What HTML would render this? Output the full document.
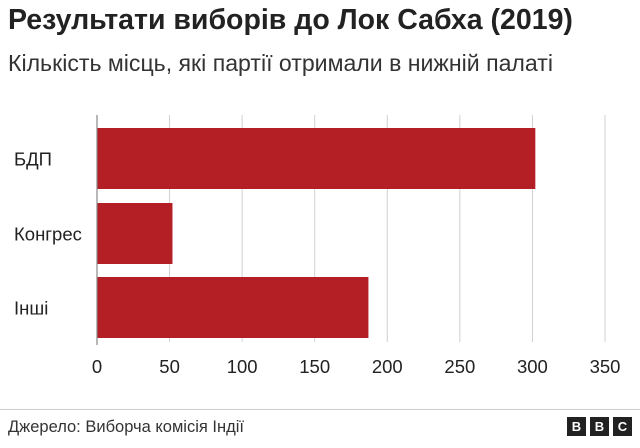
<!DOCTYPE html>
<html><head><meta charset="utf-8"><style>
body{margin:0;width:640px;height:448px;background:#fff;font-family:"Liberation Sans","DejaVu Sans",sans-serif;overflow:hidden;position:relative;color:#222}
.t{position:absolute;left:8px;top:4px;font-size:28.5px;font-weight:bold;color:#222;white-space:nowrap}
.s{position:absolute;left:8px;top:50px;font-size:23.1px;color:#333;white-space:nowrap}
.f{position:absolute;left:8px;top:418px;font-size:16.5px;color:#333;white-space:nowrap}
.bbc{position:absolute;top:417px;width:19px;height:19px;background:#222;color:#fff;font-weight:bold;font-size:13px;text-align:center;line-height:19px}
</style></head><body>
<div class="t">Результати виборів до Лок Сабха (2019)</div>
<div class="s">Кількість місць, які партії отримали в нижній палаті</div>
<svg id="c" width="640" height="448" style="position:absolute;left:0;top:0"></svg>
<div style="position:absolute;left:0;top:409px;width:640px;height:1px;background:#ccc"></div>
<div class="f">Джерело: Виборча комісія Індії</div>
<div class="bbc" style="left:567px">B</div>
<div class="bbc" style="left:590px">B</div>
<div class="bbc" style="left:613px">C</div>
<script>
const categories=["БДП","Конгрес","Інші"];
const values=[302,52,187];
const ticks=[0,50,100,150,200,250,300,350];
const ns="http://www.w3.org/2000/svg",svg=document.getElementById('c');
const x0=97,x350=605,yTop=115,yBot=342;
const x=v=>x0+(x350-x0)*v/350;
const bandTop=[128,203,277],bh=61;
function mk(t,a){const e=document.createElementNS(ns,t);for(const k in a)e.setAttribute(k,a[k]);svg.appendChild(e);return e;}
ticks.forEach((t,i)=>{
 if(t>0){const g=mk('line',{x1:x(t),x2:x(t),y1:yTop,y2:yBot,stroke:'#d0d0d0','stroke-width':1});
 
 }
 const l=mk('text',{x:x(t),y:373,'text-anchor':'middle','font-size':18.5,fill:'#222','font-family':'Liberation Sans, sans-serif'});
 l.textContent=t;
 
 
});
categories.forEach((c,i)=>{
 const y=bandTop[i];
 const r=mk('rect',{x:x(0),y:y,width:x(values[i])-x(0),height:bh,fill:'#b41f26'});
 
 
 const l=mk('text',{x:14,y:y+bh/2+7,'font-size':18.5,fill:'#222','font-family':'Liberation Sans, sans-serif'});
 l.textContent=c;
 
 
});
const ax=mk('line',{x1:x0,x2:x0,y1:yTop,y2:yBot+3,stroke:'#888','stroke-width':1.2});


</script>
</body></html>
